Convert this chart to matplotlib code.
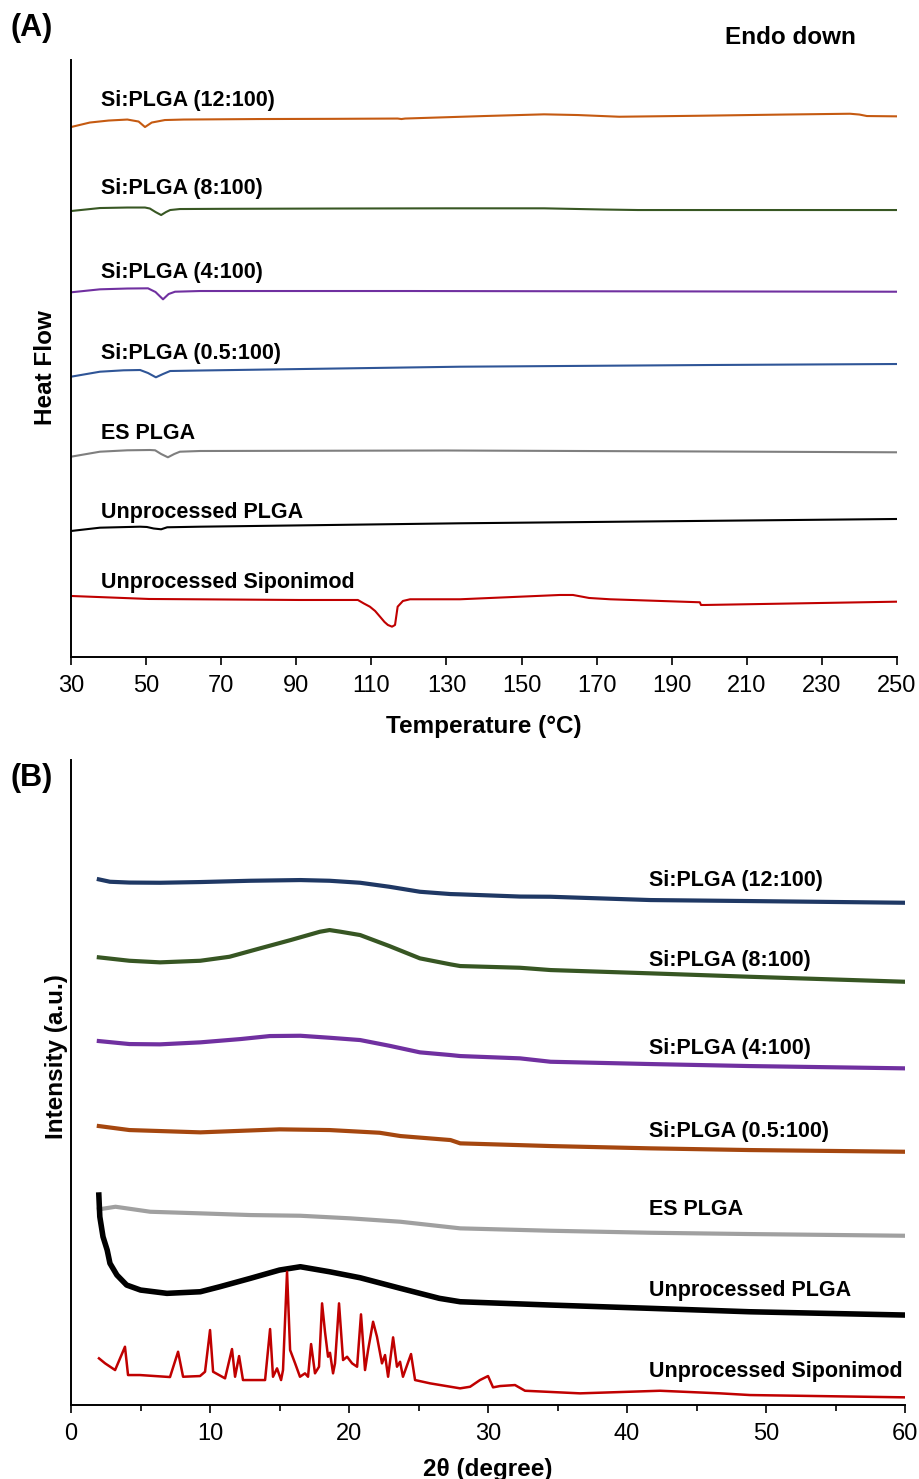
import numpy as np
import matplotlib
matplotlib.use('Agg')
import matplotlib.pyplot as plt
from matplotlib.ticker import MultipleLocator

plt.rcParams['font.family'] = ['Liberation Sans', 'DejaVu Sans']

# ---------------- (A) DSC thermograms, heat flow in arbitrary units ----------------
dsc_names = ['Si:PLGA (12:100)', 'Si:PLGA (8:100)', 'Si:PLGA (4:100)', 'Si:PLGA (0.5:100)',
             'ES PLGA', 'Unprocessed PLGA', 'Unprocessed Siponimod']
dsc_colors = ['#C55A11', '#385723', '#7030A0', '#2F5597', '#7F7F7F', '#000000', '#C00000']
dsc_label_y = [557, 469, 385, 304, 224, 144, 74]
dsc_ticks = list(range(30, 251, 20))

t_12 = [30, 35, 40, 45, 48, 49.7, 51.5, 55, 60, 80, 100, 117, 118, 119, 140, 156, 165, 176, 197.5, 220, 237.5, 240, 242, 250]
h_12 = [530, 534.5, 536.5, 537.5, 535.5, 530, 534.5, 537, 537.5, 538, 538.2, 538.5, 538, 538.5, 541, 542.7, 542, 540.3, 541.3, 542.5, 543.3, 542.5, 541, 540.7]

t_8 = [30, 37.7, 45, 49.7, 51, 52.5, 54, 55.3, 56.4, 59, 70, 100, 130, 156, 172, 181, 250]
h_8 = [446, 449, 449.5, 449.5, 448.5, 445, 442, 445, 447, 448, 448.2, 448.5, 448.7, 448.7, 447.5, 447, 447]

t_4 = [30, 37.7, 45, 50.5, 52.5, 54.5, 56, 57.7, 64.4, 120, 250]
h_4 = [364.7, 367.7, 368.5, 368.7, 365, 357.7, 363, 365.3, 366, 366, 365.3]

t_05 = [30, 37.7, 44, 48.4, 50.5, 52.6, 54.5, 56.4, 64.4, 133.6, 200, 250]
h_05 = [280.3, 285.3, 286.7, 287, 284, 279.7, 283, 286, 286.5, 290.3, 292, 293]

t_es = [30, 37.7, 45, 51, 52.4, 54, 55.8, 57.5, 59, 64.4, 130, 200, 250]
h_es = [200.3, 205.3, 206.7, 207, 206.7, 203, 199.7, 203, 205.3, 206, 206.5, 205.5, 204.7]

t_plga = [30, 37.7, 48.4, 50.2, 52, 54, 55.6, 64.4, 133.6, 250]
h_plga = [126, 129.3, 130.3, 130, 128.5, 127.7, 129.7, 130.3, 133.7, 138]

t_si = [30, 50.8, 90.7, 106.4, 108, 109.6, 111, 112.3, 113.5, 114.4, 115.5, 116.3, 117, 118.4, 120.3,
        133.6, 160.2, 163.7, 168, 173.6, 197.5, 197.8, 198.8, 250]
h_si = [61, 58, 57, 57, 53.5, 50.3, 46, 40.3, 35, 32, 30.3, 32, 50.3, 56, 57.7,
        57.7, 62, 62, 59, 57.7, 54.7, 52, 52, 55.3]

dsc_t = [t_12, t_8, t_4, t_05, t_es, t_plga, t_si]
dsc_h = [h_12, h_8, h_4, h_05, h_es, h_plga, h_si]

# ---------------- (B) XRD patterns, intensity in arbitrary units ----------------
xrd_names = dsc_names
xrd_colors = ['#1F3864', '#375623', '#7030A0', '#A5470F', '#A0A0A0', '#000000', '#C00000']
xrd_label_y = [525, 445, 356.7, 274, 195.7, 115, 33.3]

tt_12 = [2, 2.8, 4.2, 6.4, 9.3, 12.9, 16.5, 18.6, 20.8, 22.9, 25.1, 27.3, 28.0, 32.3, 34.5, 41.7, 48.8, 60]
i_12 = [525.7, 523.3, 522.5, 522.3, 523, 524.3, 525, 524.3, 522.3, 518.3, 513.3, 511, 510.7, 508.5, 508.3, 505, 504, 502.3]

tt_8 = [2, 4.2, 6.4, 9.3, 11.4, 13.6, 15.8, 17.9, 18.6, 19.4, 20.8, 22.9, 25.1, 27.3, 28.0, 32.3, 34.5, 41.7, 48.8, 60]
i_8 = [447.7, 444.3, 442.7, 444.3, 448.3, 456.7, 465, 473.3, 475, 473.3, 470, 459, 446.7, 440.7, 439, 437.3, 435, 431.7, 428.3, 423.3]

tt_4 = [2, 4.2, 6.4, 9.3, 12.2, 14.3, 16.5, 18.6, 20.8, 22.9, 25.1, 27.3, 28.0, 32.3, 34.5, 41.7, 48.8, 60]
i_4 = [364, 361, 360.7, 362.7, 366, 369, 369.3, 367.3, 365, 359.3, 352.7, 350, 349, 346.7, 343.3, 341, 339, 336.7]

tt_05 = [2, 4.2, 9.3, 15, 18.6, 22.2, 23.7, 27.3, 28.0, 34.5, 41.7, 48.8, 60]
i_05 = [279, 275, 272.7, 275.7, 275, 272.3, 269, 265, 261.7, 259, 256.7, 255, 253.3]

tt_es = [2, 3.2, 5.7, 9.3, 12.9, 16.5, 20.1, 23.7, 28.0, 34.5, 41.7, 48.8, 60]
i_es = [195.7, 198.3, 193.3, 191.7, 190, 189.3, 186.7, 183.3, 176.7, 174.3, 172.3, 171, 169.3]

tt_plga = [2.0, 2.07, 2.3, 2.6, 2.8, 3.3, 4.0, 5.0, 6.9, 9.3, 10.7, 12.9, 15.0, 16.5, 18.6, 20.8, 23.7,
           26.5, 28.0, 34.5, 41.7, 48.8, 60]
i_plga = [210, 188.3, 168.3, 155, 141.7, 130, 120, 115, 111.7, 113.3, 118.3, 126.7, 135, 138.3, 133.3,
          127.3, 116.7, 106.7, 103.3, 100, 96.7, 93.3, 90]

tt_si = [2.01, 2.45, 3.17, 3.88, 4.10, 4.96, 7.12, 7.70, 8.06, 9.28, 9.64, 10.0, 10.22, 11.08, 11.58, 11.80,
         12.09, 12.37, 13.96, 14.32, 14.53, 14.82, 15.11, 15.25, 15.54, 15.76, 16.12, 16.47, 16.83, 17.05,
         17.27, 17.55, 17.84, 18.06, 18.27, 18.49, 18.63, 18.85, 18.99, 19.28, 19.57, 19.86, 20.22, 20.58,
         20.86, 21.15, 21.37, 21.73, 22.01, 22.37, 22.59, 22.81, 23.17, 23.45, 23.67, 23.88, 24.46, 24.75,
         25.83, 27.99, 28.71, 29.42, 30.0, 30.36, 30.86, 31.94, 32.66, 36.62, 42.37, 46.69, 48.85, 60]
i_si = [46.7, 41.7, 35, 58.3, 30, 30, 28, 53.3, 28.3, 29, 33.3, 75, 33.3, 26.7, 56, 28.3,
        49, 25, 25, 76, 28.3, 36.7, 25, 35, 133.3, 55, 41.7, 28.3, 31.7, 28.3,
        61, 31.7, 38.3, 101.7, 73.3, 48.3, 52.3, 31.7, 41.7, 101.7, 45, 48.3, 41.7, 38.3,
        90.7, 35, 55, 83.3, 68.3, 41.7, 50, 28.3, 67.7, 38.3, 43.3, 28.3, 51, 25,
        21.7, 16.7, 18.3, 25, 29, 17.7, 19, 20, 14.3, 11.7, 14.3, 11.7, 10, 7.7]

xrd_t = [tt_12, tt_8, tt_4, tt_05, tt_es, tt_plga, tt_si]
xrd_i = [i_12, i_8, i_4, i_05, i_es, i_plga, i_si]
xrd_lw = [3, 3, 3, 3, 3, 4, 1.8]

fig = plt.figure(figsize=(9.19, 14.79), dpi=100)
axA = fig.add_axes([0.0773, 0.5558, 0.8987, 0.4036])
axB = fig.add_axes([0.0773, 0.05, 0.9075, 0.4361])

for t, h, c in zip(dsc_t, dsc_h, dsc_colors):
    axA.plot(t, h, '-', color=c, lw=1.5)
for name, y in zip(dsc_names, dsc_label_y):
    axA.text(38, y, name, fontsize=15.5, fontweight='bold', va='center', ha='left')
axA.set_xlim(30, 250)
axA.set_ylim(0, 597)
axA.set_xticks(dsc_ticks)
axA.xaxis.set_minor_locator(MultipleLocator(20, offset=10))
axA.set_xlabel('Temperature (°C)', fontsize=17.5, fontweight='bold', labelpad=13)

for t, v, c, lw in zip(xrd_t, xrd_i, xrd_colors, xrd_lw):
    axB.plot(t, v, '-', color=c, lw=lw)
for name, y in zip(xrd_names, xrd_label_y):
    axB.text(41.6, y, name, fontsize=15.5, fontweight='bold', va='center', ha='left')
axB.set_xlim(0, 60)
axB.set_ylim(0, 645)
axB.xaxis.set_major_locator(MultipleLocator(10))
axB.xaxis.set_minor_locator(MultipleLocator(5))
axB.set_xlabel('2θ (degree)', fontsize=17.5, fontweight='bold', labelpad=9)

for ax in (axA, axB):
    ax.spines['top'].set_visible(False)
    ax.spines['right'].set_visible(False)
    ax.spines['left'].set_linewidth(1.4)
    ax.spines['bottom'].set_linewidth(1.4)
    ax.set_yticks([])
    ax.tick_params(axis='x', which='major', length=6, width=1.2, labelsize=17, pad=7)
    ax.tick_params(axis='x', which='minor', length=4, width=1.2)

fig.text(10 / 919, 1 - 28 / 1479, '(A)', fontsize=22, fontweight='bold', va='center', ha='left')
fig.text(10 / 919, 1 - 778 / 1479, '(B)', fontsize=22, fontweight='bold', va='center', ha='left')
fig.text(790 / 919, 1 - 37 / 1479, 'Endo down', fontsize=17.5, fontweight='bold', va='center', ha='center')
fig.text(45 / 919, 1 - 368 / 1479, 'Heat Flow', fontsize=17.5, fontweight='bold', va='center', ha='center',
         rotation=90)
fig.text(57 / 919, 1 - 1057 / 1479, 'Intensity (a.u.)', fontsize=17.5, fontweight='bold', va='center',
         ha='center', rotation=90)

plt.savefig('out.png', dpi=100)
